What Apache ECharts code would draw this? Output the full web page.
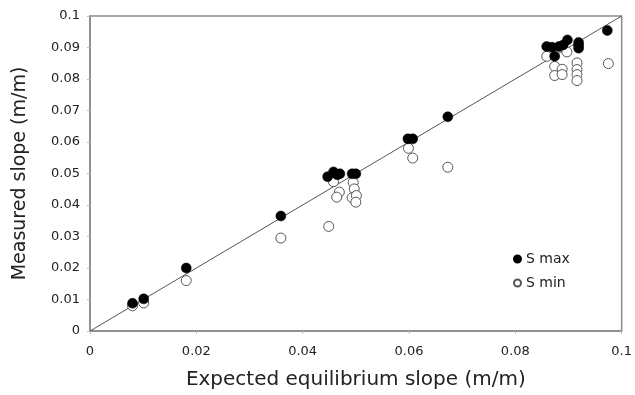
<!DOCTYPE html>
<html>
<head>
<meta charset="utf-8">
<script src="https://cdn.jsdelivr.net/npm/echarts@6/dist/echarts.min.js"></script>
<style>
html, body { margin: 0; padding: 0; background: #fff; }
#chart { width: 635px; height: 395px; }
</style>
</head>
<body>
<div id="chart"></div>
<script>
// expected slope, measured slope (S max)
var sMax = [
    [0.0080, 0.0088], [0.0101, 0.0102], [0.0181, 0.0200], [0.0359, 0.0365],
    [0.0447, 0.0490], [0.0458, 0.0505], [0.0465, 0.0496], [0.0470, 0.0499],
    [0.0493, 0.0499], [0.0500, 0.0499], [0.0598, 0.0610], [0.0607, 0.0610],
    [0.0673, 0.0680], [0.0859, 0.0903], [0.0869, 0.0901], [0.0874, 0.0872],
    [0.0882, 0.0903], [0.0890, 0.0908], [0.0898, 0.0924], [0.0919, 0.0916],
    [0.0919, 0.0907], [0.0919, 0.0898], [0.0973, 0.0954]
];
var sMin = [
    [0.0080, 0.0080], [0.0101, 0.0089], [0.0181, 0.0160], [0.0359, 0.0295],
    [0.0449, 0.0332], [0.0458, 0.0474], [0.0469, 0.0441], [0.0464, 0.0425],
    [0.0495, 0.0472], [0.0497, 0.0451], [0.0493, 0.0423], [0.0501, 0.0430],
    [0.0500, 0.0409], [0.0599, 0.0580], [0.0607, 0.0549], [0.0673, 0.0520],
    [0.0859, 0.0872], [0.0897, 0.0886], [0.0874, 0.0840], [0.0874, 0.0811],
    [0.0888, 0.0831], [0.0888, 0.0814], [0.0916, 0.0851], [0.0916, 0.0830],
    [0.0916, 0.0814], [0.0916, 0.0795], [0.0975, 0.0849]
];
var oneToOne = [[0, 0], [0.1, 0.1]];

var fmt = function (v) {
    return String(+v.toFixed(2));
};

var myChart = echarts.init(document.getElementById('chart'));
var option = {
    animation: false,
    textStyle: { fontFamily: 'DejaVu Sans' },
    grid: {
        left: 90, right: 10, top: 16, bottom: 62,
        show: true, borderColor: '#8a8a8a', borderWidth: 1.5
    },
    legend: {
        orient: 'vertical',
        left: 508, top: 246,
        itemWidth: 7, itemHeight: 7, itemGap: 8,
        textStyle: { fontSize: 14, lineHeight: 16, color: '#222' },
        data: [
            { name: 'S max', icon: 'circle' },
            { name: 'S min', icon: 'circle' }
        ]
    },
    xAxis: {
        type: 'value', min: 0, max: 0.1, interval: 0.02,
        name: 'Expected equilibrium slope (m/m)',
        nameLocation: 'middle', nameGap: 39,
        nameTextStyle: { fontSize: 20, color: '#222' },
        axisLine: { lineStyle: { color: '#8a8a8a', width: 1.5 } },
        axisTick: { show: true, length: 3, lineStyle: { color: '#bbb' } },
        axisLabel: { fontSize: 13, color: '#222', margin: 14, formatter: fmt },
        splitLine: { show: false }
    },
    yAxis: {
        type: 'value', min: 0, max: 0.1, interval: 0.01,
        name: 'Measured slope (m/m)',
        nameLocation: 'middle', nameGap: 60,
        nameTextStyle: { fontSize: 19, color: '#222' },
        axisLine: { show: true, lineStyle: { color: '#8a8a8a', width: 1.5 } },
        axisTick: { show: true, length: 3, lineStyle: { color: '#bbb' } },
        axisLabel: { fontSize: 13, color: '#222', margin: 10, formatter: fmt },
        splitLine: { show: false }
    },
    series: [{
        type: 'line',
        data: oneToOne,
        symbol: 'none',
        silent: true,
        z: 1,
        lineStyle: { color: '#555', width: 1 }
    }, {
        name: 'S min',
        type: 'scatter',
        data: sMin,
        symbolSize: 10,
        z: 2,
        itemStyle: { color: '#fff', borderColor: '#555', borderWidth: 1, opacity: 1 }
    }, {
        name: 'S max',
        type: 'scatter',
        data: sMax,
        symbolSize: 10,
        z: 3,
        itemStyle: { color: '#000', borderColor: '#000', borderWidth: 0.5, opacity: 1 }
    }]
};
myChart.setOption(option);
</script>
</body>
</html>
